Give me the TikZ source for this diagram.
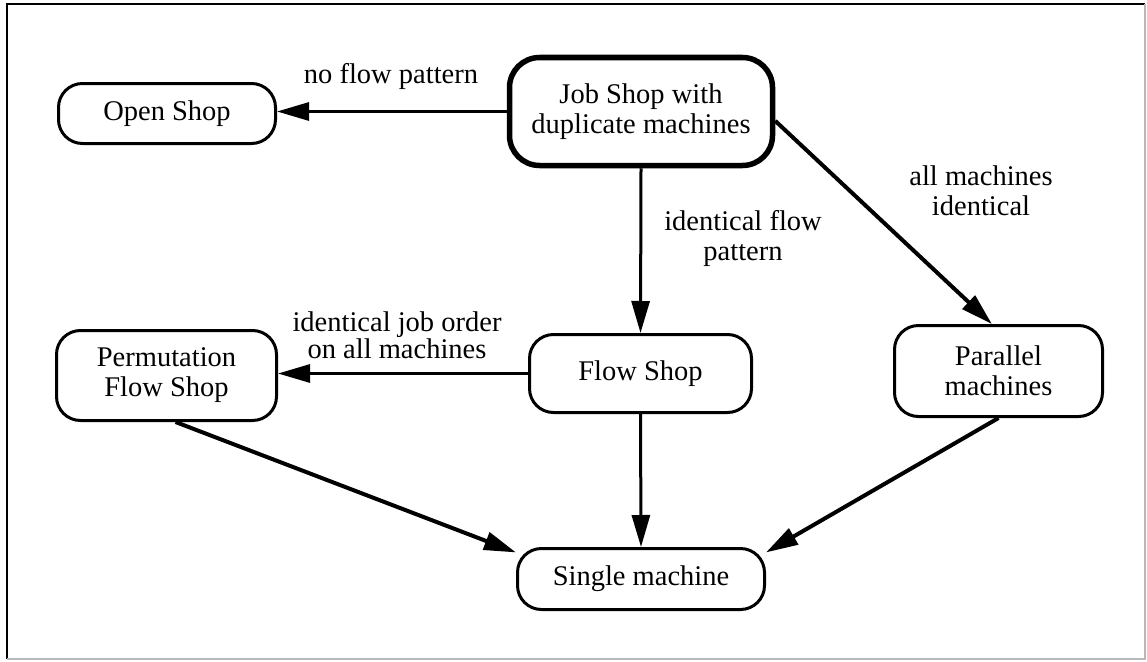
\documentclass[tikz,border=0pt]{standalone}
\usepackage{fontspec}
\setmainfont{Liberation Serif}
\usetikzlibrary{arrows.meta, positioning}

\begin{document}
\begin{tikzpicture}[x=1pt, y=-1pt,
        font=\fontsize{28.5}{30}\selectfont,
        shop/.style={draw, line width=3pt, rounded corners=24pt, align=center, inner sep=0pt},
        edge/.style={line width=3pt, -{Triangle[length=32pt, width=18pt]}},
        cond/.style={align=center, inner sep=0pt}]
        \useasboundingbox (0,0) rectangle (1147,661);
        \draw[line width=2.5pt] (7,659) -- (7,4) -- (1145,4);
        \draw[line width=1.5pt, gray!55] (1145,4) -- (1145,659) -- (7,659);

        \node[shop, line width=5.5pt, rounded corners=30pt, minimum width=263pt, minimum height=108pt] (job) at (641,111.5) {Job Shop with\\duplicate machines};
        \node[shop, minimum width=217pt, minimum height=60pt] (open) at (167,113.5) {Open Shop};
        \node[shop, minimum width=222pt, minimum height=78pt] (flow) at (640.5,373.5) {Flow Shop};
        \node[shop, minimum width=220pt, minimum height=90pt] (perm) at (166.5,375.5) {Permutation\\Flow Shop};
        \node[shop, minimum width=208pt, minimum height=91pt] (par) at (998.5,371) {Parallel\\machines};
        \node[shop, minimum width=247pt, minimum height=61pt] (single) at (641,579) {Single machine};

        \node[cond] (nofl) at (391,76) {no flow pattern};
        \node[cond] (idfl) at (743,238) {identical flow\\pattern};
        \node[cond] (allm) at (981,191) {all machines\\identical};
        \node[cond, font=\fontsize{28.5}{21}\selectfont] (idjo) at (397,335) {identical job order\\on all machines};

        \draw[edge] (job.west) -- (job.west -| open.east);
        \draw[edge] (job.south) -- (flow.north);
        \draw[edge, line width=4pt] (job.-4) -- (par.98);
        \draw[edge] (flow.west) -- (flow.west -| perm.east);
        \draw[edge, line width=4pt] (perm.-79) -- (single.168);
        \draw[edge] (flow.south) -- (single.north);
        \draw[edge, line width=4pt] (par.south) -- (single.12);
    \end{tikzpicture}
\end{document}
